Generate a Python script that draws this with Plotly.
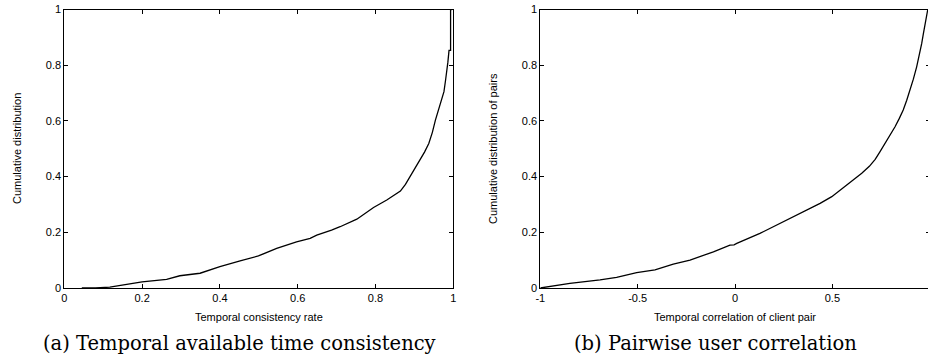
import plotly.graph_objects as go

# (a) Temporal consistency rate CDF
x_a = [0.045, 0.08, 0.117, 0.15, 0.2, 0.263, 0.297, 0.349, 0.40, 0.452, 0.499, 0.546,
       0.597, 0.632, 0.649, 0.687, 0.709, 0.752, 0.795, 0.829, 0.864, 0.877, 0.889,
       0.902, 0.915, 0.926, 0.937, 0.946, 0.954, 0.961, 0.967, 0.972, 0.976, 0.980,
       0.983, 0.986, 0.989, 0.993, 0.993, 0.996]
y_a = [0.0, 0.0, 0.003, 0.01, 0.022, 0.031, 0.044, 0.053, 0.077, 0.097, 0.115, 0.142,
       0.166, 0.178, 0.19, 0.208, 0.22, 0.247, 0.289, 0.316, 0.348, 0.372, 0.400,
       0.428, 0.460, 0.488, 0.519, 0.558, 0.603, 0.635, 0.663, 0.690, 0.705, 0.745,
       0.770, 0.810, 0.853, 0.853, 1.0, 1.0]

# (b) Pairwise correlation CDF
x_b = [-1.0, -0.848, -0.693, -0.608, -0.505, -0.411, -0.317, -0.231, -0.111, -0.026,
       -0.005, 0.009, 0.128, 0.248, 0.351, 0.437, 0.497, 0.574, 0.651, 0.69, 0.72,
       0.745, 0.770, 0.797, 0.822, 0.844, 0.864, 0.882, 0.899, 0.916, 0.933, 0.947,
       0.959, 0.968, 0.976, 0.983, 0.990]
y_b = [0.0, 0.017, 0.029, 0.038, 0.055, 0.065, 0.086, 0.100, 0.130, 0.154,
       0.155, 0.160, 0.196, 0.238, 0.274, 0.304, 0.328, 0.370, 0.412, 0.437, 0.462,
       0.490, 0.519, 0.549, 0.579, 0.609, 0.639, 0.674, 0.711, 0.750, 0.794, 0.836,
       0.878, 0.915, 0.950, 0.975, 1.0]

y_ticks = [0, 0.2, 0.4, 0.6, 0.8, 1]
y_labels = ["0", "0.2", "0.4", "0.6", "0.8", "1"]
xa_ticks = [0, 0.2, 0.4, 0.6, 0.8, 1]
xa_labels = ["0", "0.2", "0.4", "0.6", "0.8", "1"]
xb_ticks = [-1, -0.5, 0, 0.5]
xb_labels = ["-1", "-0.5", "0", "0.5"]

# figure is slightly wider than the window: the right frame of (b) falls just outside
W, H = 930, 358
tick_font = dict(family="Liberation Sans, Arial, sans-serif", size=11, color="black")
cap_font = dict(family="DejaVu Serif, serif", size=19.5, color="black")

fig = go.Figure()
fig.add_trace(go.Scatter(x=x_a, y=y_a, mode="lines", line=dict(color="black", width=1.3),
                         xaxis="x", yaxis="y", showlegend=False, hoverinfo="skip"))
fig.add_trace(go.Scatter(x=x_b, y=y_b, mode="lines", line=dict(color="black", width=1.3),
                         xaxis="x2", yaxis="y2", showlegend=False, hoverinfo="skip"))

common = dict(showline=True, linecolor="black", linewidth=1, mirror="allticks",
              ticks="inside", ticklen=4, tickwidth=1, tickcolor="black",
              showgrid=False, zeroline=False, tickfont=tick_font, fixedrange=True,
              automargin=False)

ydom = [1 - 288 / H, 1 - 9.5 / H]
fig.update_layout(
    width=W, height=H, margin=dict(l=0, r=0, t=0, b=0, pad=0, autoexpand=False),
    paper_bgcolor="white", plot_bgcolor="white",
    xaxis=dict(domain=[64.3 / W, 453.3 / W], range=[0, 1], tickvals=xa_ticks,
               ticktext=xa_labels, anchor="y", **common),
    yaxis=dict(domain=ydom, range=[0, 1], tickvals=y_ticks, ticktext=y_labels,
               anchor="x", **common),
    xaxis2=dict(domain=[540.3 / W, 929.7 / W], range=[-1, 1],
                tickvals=xb_ticks, ticktext=xb_labels, anchor="y2", **common),
    yaxis2=dict(domain=ydom, range=[0, 1], tickvals=y_ticks, ticktext=y_labels,
                anchor="x2", **common),
)

ann_font = dict(family="Liberation Sans, Arial, sans-serif", size=11, color="black")
fig.add_annotation(text="Temporal consistency rate", x=258.8 / W, y=1 - 317 / H,
                   xref="paper", yref="paper", showarrow=False, font=ann_font,
                   xanchor="center", yanchor="middle")
fig.add_annotation(text="Cumulative distribution", x=17 / W, y=1 - 149 / H,
                   xref="paper", yref="paper", showarrow=False, font=ann_font,
                   textangle=-90, xanchor="center", yanchor="middle")
fig.add_annotation(text="Temporal correlation of client pair", x=735 / W, y=1 - 317 / H,
                   xref="paper", yref="paper", showarrow=False, font=ann_font,
                   xanchor="center", yanchor="middle")
fig.add_annotation(text="Cumulative distribution of pairs", x=493 / W, y=1 - 149 / H,
                   xref="paper", yref="paper", showarrow=False, font=ann_font,
                   textangle=-90, xanchor="center", yanchor="middle")
fig.add_annotation(text="(a) Temporal available time consistency", x=239.2 / W, y=1 - 343 / H,
                   xref="paper", yref="paper", showarrow=False, font=cap_font,
                   xanchor="center", yanchor="middle")
fig.add_annotation(text="(b) Pairwise user correlation", x=715.8 / W, y=1 - 343 / H,
                   xref="paper", yref="paper", showarrow=False, font=cap_font,
                   xanchor="center", yanchor="middle")

fig.write_html(
    "out.html",
    config={"displayModeBar": False},
    post_script="document.documentElement.style.overflow='hidden';"
                "document.body.style.overflow='hidden';document.body.style.margin='0';",
)
